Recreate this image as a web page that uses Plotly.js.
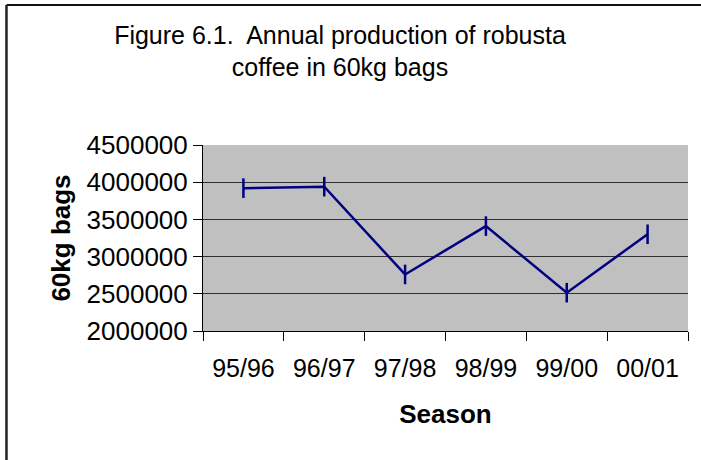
<!DOCTYPE html>
<html>
<head>
<meta charset="utf-8">
<script src="https://cdn.plot.ly/plotly-3.0.1.min.js"></script>
<style>html,body{margin:0;padding:0;background:#fff;}#chart{width:701px;height:460px;}</style>
</head>
<body>
<div id="chart"></div>
<script>
const seasons = ["95/96", "96/97", "97/98", "98/99", "99/00", "00/01"];
const bags = [3920000, 3940000, 2760000, 3410000, 2515000, 3300000];
const yTicks = [2000000, 2500000, 3000000, 3500000, 4000000, 4500000];

const font = "Liberation Sans, Arial, sans-serif";

const trace = {
  x: seasons,
  y: bags,
  type: "scatter",
  mode: "lines+markers",
  line: {color: "#000080", width: 2.5},
  marker: {symbol: "line-ns", size: 14, line: {color: "#000080", width: 2.5}},
  hoverinfo: "x+y"
};

const layout = {
  width: 701,
  height: 460,
  margin: {l: 203, r: 13, t: 145, b: 129},
  paper_bgcolor: "#ffffff",
  plot_bgcolor: "#c0c0c0",
  showlegend: false,
  title: {
    text: "Figure 6.1.  Annual production of robusta<br>coffee in 60kg bags",
    font: {family: font, size: 25, color: "#000"},
    x: 0.485, xanchor: "center",
    y: 0.905, yanchor: "top"
  },
  xaxis: {
    type: "category",
    range: [-0.5, 5.5],
    tickson: "boundaries",
    ticks: "outside",
    ticklen: 9,
    tickcolor: "#000",
    tickwidth: 1,
    ticklabelstandoff: 15,
    showline: true,
    linecolor: "#000",
    linewidth: 1,
    showgrid: false,
    zeroline: false,
    tickfont: {family: font, size: 25, color: "#000"},
    title: {text: "<b>Season</b>", font: {family: font, size: 26, color: "#000"}, standoff: 23}
  },
  yaxis: {
    range: [2000000, 4500000],
    tickvals: yTicks,
    ticktext: yTicks.map(String),
    ticks: "outside",
    ticklen: 9,
    tickcolor: "#000",
    showline: true,
    linecolor: "#000",
    linewidth: 1,
    showgrid: true,
    gridcolor: "#303030",
    gridwidth: 1,
    zeroline: false,
    tickfont: {family: font, size: 26, color: "#000"},
    title: {text: "<b>60kg bags</b>", font: {family: font, size: 26, color: "#000"}, standoff: 8}
  },
  shapes: [
    {type: "line", xref: "paper", yref: "paper", x0: -0.4052, x1: 1.1, y0: 1.7527, y1: 1.7527, line: {color: "#111", width: 2}},
    {type: "line", xref: "paper", yref: "paper", x0: -0.4052, x1: -0.4052, y0: 1.7527, y1: -1, line: {color: "#222", width: 2.5}}
  ]
};

Plotly.newPlot("chart", [trace], layout, {displayModeBar: false, staticPlot: true});
</script>
</body>
</html>
